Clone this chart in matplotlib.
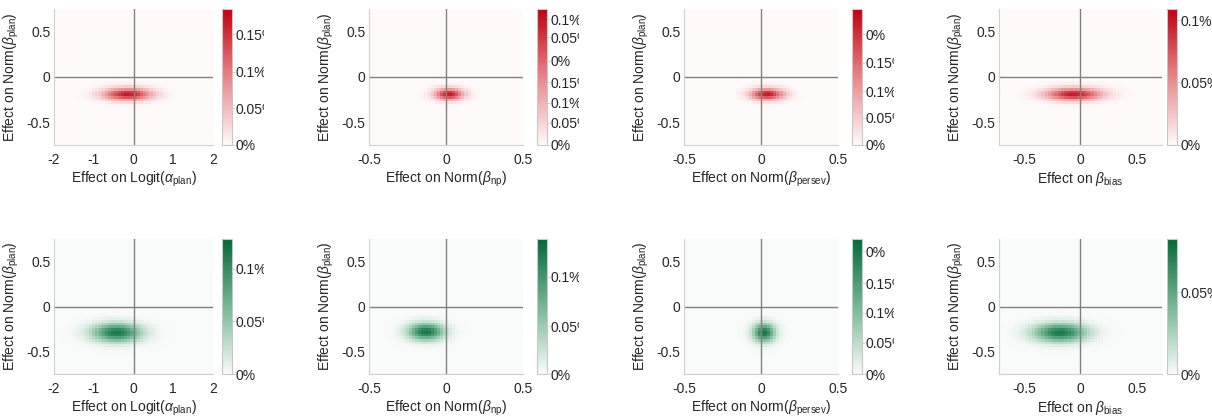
import matplotlib
matplotlib.use('Agg')
import matplotlib.pyplot as plt
import numpy as np
from matplotlib.colors import LinearSegmentedColormap
from matplotlib.transforms import Bbox, TransformedBbox

plt.rcParams['font.family'] = ['Liberation Sans', 'DejaVu Sans']
plt.rcParams['mathtext.fontset'] = 'custom'
plt.rcParams['mathtext.rm'] = 'Liberation Sans'
plt.rcParams['mathtext.it'] = 'Liberation Sans:italic'

# x-axis of each column
xlabels = [r'Effect on Logit($\alpha_{\rm plan}$)', r'Effect on Norm($\beta_{\rm np}$)',
           r'Effect on Norm($\beta_{\rm persev}$)', r'Effect on $\beta_{\rm bias}$']
ylabel = r'Effect on Norm($\beta_{\rm plan}$)'
xlims = [2.0, 0.5, 0.5, 0.72]
xticks = [[-2, -1, 0, 1, 2], [-0.5, 0, 0.5], [-0.5, 0, 0.5], [-0.5, 0, 0.5]]
xticklabels = [['-2', '-1', '0', '1', '2'], ['-0.5', '0', '0.5'], ['-0.5', '0', '0.5'], ['-0.5', '0', '0.5']]
ylim = 0.75

# blob: centre x, centre y, spread x, spread y, colour-bar top (%)
red_cx = [-0.15, 0.02, 0.04, -0.06]
red_cy = [-0.19, -0.19, -0.19, -0.19]
red_sx = [0.42, 0.065, 0.075, 0.17]
red_sy = [0.048, 0.045, 0.045, 0.048]
red_peak = [0.184, 0.22, 0.20, 0.108]

green_cx = [-0.42, -0.13, 0.02, -0.18]
green_cy = [-0.29, -0.28, -0.29, -0.29]
green_sx = [0.42, 0.08, 0.05, 0.16]
green_sy = [0.07, 0.065, 0.07, 0.07]
green_peak = [0.128, 0.138, 0.20, 0.082]

# colorbar tick labels as printed (positions as share of colour range)
red_cb_frac = [[0, 0.272, 0.537, 0.816],
               [0, 0.162, 0.309, 0.463, 0.618, 0.794, 0.926],
               [0, 0.199, 0.397, 0.603, 0.816],
               [0, 0.463, 0.919]]
red_cb_lab = [['0%', '0.05%', '0.1%', '0.15%'],
              ['0%', '0.05%', '0.1%', '0.15%', '0%', '0.05%', '0.1%'],
              ['0%', '0.05%', '0.1%', '0.15%', '0%'],
              ['0%', '0.05%', '0.1%']]
green_cb_frac = [[0, 0.39, 0.78],
                 [0, 0.355, 0.72],
                 [0, 0.23, 0.452, 0.674, 0.911],
                 [0, 0.607]]
green_cb_lab = [['0%', '0.05%', '0.1%'],
                ['0%', '0.05%', '0.1%'],
                ['0%', '0.05%', '0.1%', '0.15%', '0%'],
                ['0%', '0.05%']]

nbins = 50
W, H = 1212, 419

reds = LinearSegmentedColormap.from_list('r', ['#fefafa', '#e88589', '#c00010'])
greens = LinearSegmentedColormap.from_list('g', ['#f9fbfa', '#76b794', '#04693a'])

ax_left = [54, 369, 684, 999]
ax_width = [159, 154, 154, 163]
cb_left = [222, 537, 852, 1167]
clip_right = [264, 579, 894, 1212]
row_top = [9, 239]
row_h = [136, 135]

fig = plt.figure(figsize=(W / 100, H / 100), dpi=100)


def blob(cx, cy, sx, sy, peak, xl):
    xe = np.linspace(-xl, xl, nbins + 1)
    ye = np.linspace(-ylim, ylim, nbins + 1)
    xc = (xe[:-1] + xe[1:]) / 2
    yc = (ye[:-1] + ye[1:]) / 2
    X, Y = np.meshgrid(xc, yc)
    r2 = ((X - cx) / sx) ** 2 + ((Y - cy) / sy) ** 2
    z = np.exp(-r2 / 2) + 0.04 * (1 + r2 / 4) ** -2
    z = z / z.max() * peak * 0.9
    return xe, ye, z


rows = [(red_cx, red_cy, red_sx, red_sy, red_peak, reds, red_cb_frac, red_cb_lab),
        (green_cx, green_cy, green_sx, green_sy, green_peak, greens, green_cb_frac, green_cb_lab)]

for r, (cxs, cys, sxs, sys_, peaks, cmap, fracs, labs) in enumerate(rows):
    top = row_top[r]
    h = row_h[r]
    for i in range(4):
        ax = fig.add_axes([ax_left[i] / W, (H - top - h) / H, ax_width[i] / W, h / H])
        xe, ye, z = blob(cxs[i], cys[i], sxs[i], sys_[i], peaks[i], xlims[i])
        m = ax.pcolormesh(xe, ye, z, cmap=cmap, vmin=0, vmax=peaks[i], shading='flat')
        ax.axvline(0, color='#808080', lw=1)
        ax.axhline(0, color='#808080', lw=1)
        ax.set_xlim(-xlims[i], xlims[i])
        ax.set_ylim(-ylim, ylim)
        ax.set_xticks(xticks[i])
        ax.set_xticklabels(xticklabels[i])
        ax.set_yticks([-0.5, 0, 0.5])
        ax.set_yticklabels(['-0.5', '0', '0.5'])
        ax.tick_params(axis='y', length=0, labelsize=10, colors='#262626', pad=2.5)
        ax.tick_params(axis='x', length=0, labelsize=10, colors='#262626', pad=6)
        for s in ['top', 'right']:
            ax.spines[s].set_visible(False)
        for s in ['left', 'bottom']:
            ax.spines[s].set_color('#d0d0d0')
            ax.spines[s].set_linewidth(0.8)
        ax.set_xlabel(xlabels[i], fontsize=10, color='#262626', labelpad=2)
        ax.set_ylabel(ylabel, fontsize=10, color='#262626', labelpad=4)

        cax = fig.add_axes([cb_left[i] / W, (H - top - h) / H, 10 / W, h / H])
        cb = fig.colorbar(m, cax=cax)
        cb.outline.set_edgecolor('#c8c8c8')
        cb.outline.set_linewidth(0.8)
        cb.set_ticks([f * peaks[i] for f in fracs[i]])
        cb.set_ticklabels(labs[i])
        cax.tick_params(length=2, width=0.6, color='#c8c8c8', labelsize=10,
                        labelcolor='#262626', pad=0.5)
        clip = TransformedBbox(Bbox.from_extents(cb_left[i] / W, 0, clip_right[i] / W, 1),
                               fig.transFigure)
        for t in cax.get_yticklabels():
            t.set_clip_on(True)
            t.set_clip_box(clip)

fig.savefig('out.png', dpi=100, facecolor='white')
